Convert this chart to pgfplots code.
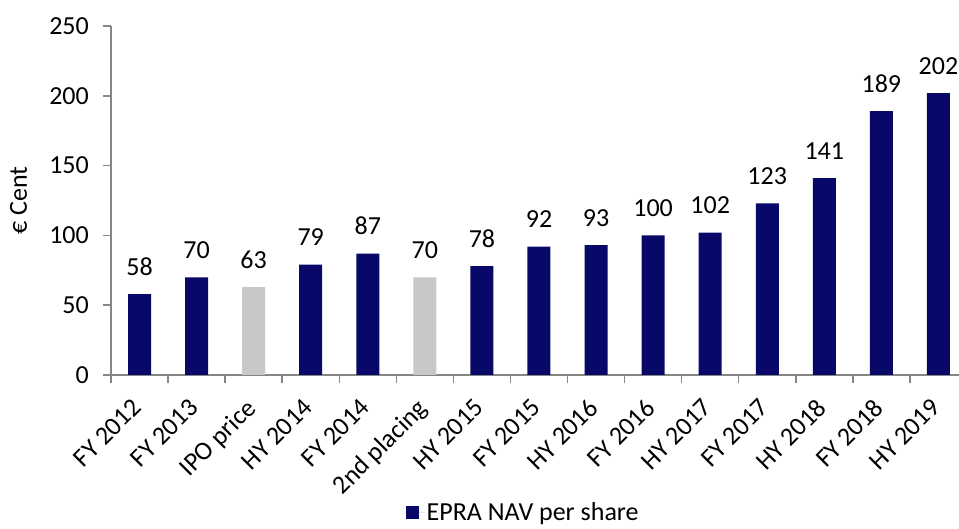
\documentclass[border=0pt]{standalone}
\usepackage{pgfplots}
\pgfplotsset{compat=1.18}
\usepackage{fontspec}
\setmainfont{Carlito}
\definecolor{navy}{RGB}{8,8,104}
\definecolor{barGray}{RGB}{200,200,200}
\definecolor{axgray}{RGB}{134,134,134}
\begin{document}
\begin{tikzpicture}[x=1pt,y=1pt,font=\fontsize{26}{31}\selectfont]
\path[use as bounding box] (-111,-154) rectangle (848,375);
\begin{axis}[
  at={(0,0)}, anchor=south west,
  scale only axis, width=848pt, height=349pt,
  xmin=-0.5, xmax=14.36, ymin=0, ymax=250,
  axis x line*=bottom, axis y line*=left,
  axis line style={draw=axgray, line width=2pt, -},
  ytick={0,50,...,250},
  tick align=outside,
  major tick length=8pt, minor tick length=8pt,
  ytick style={draw=axgray, line width=1.5pt},
  xtick={0,...,14},
  xticklabels={FY 2012,FY 2013,IPO price,HY 2014,FY 2014,2nd placing,HY 2015,FY 2015,HY 2016,FY 2016,HY 2017,FY 2017,HY 2018,FY 2018,HY 2019},
  major x tick style={draw=none},
  minor xtick={-0.5,0.5,...,13.5},
  minor x tick style={draw=axgray, line width=1.5pt},
  /pgf/number format/assume math mode=true,
  yticklabel style={anchor=east, inner sep=0pt, xshift=-14pt},
  xticklabel style={xshift=-9pt, yshift=-14pt, rotate=45, anchor=north east, inner sep=0pt},
  ylabel={€ Cent},
  every axis y label/.style={at={(axis description cs:-0.109,0.5)}, rotate=90, anchor=center},
  legend style={at={(axis description cs:0.486,-0.393)}, anchor=center, draw=none, fill=none, inner sep=0pt},
  legend image code/.code={\path (0pt,0pt) -- (19pt,0pt); \fill[navy] (0pt,-6.5pt) rectangle (13pt,6.5pt);},
  nodes near coords,
  every node near coord/.append style={anchor=base, inner sep=0pt, yshift=19pt, text=black},
  clip=false,
]
\addplot[ybar, bar width=23pt, bar shift=0pt, draw=none, fill=navy]
  coordinates {(0,58) (1,70) (3,79) (4,87) (6,78) (7,92) (8,93) (9,100) (10,102) (11,123) (12,141) (13,189) (14,202)};
\addlegendentry{EPRA NAV per share}
\addplot[ybar, bar width=23pt, bar shift=0pt, draw=none, fill=barGray, forget plot]
  coordinates {(2,63) (5,70)};
\end{axis}
\end{tikzpicture}
\end{document}
